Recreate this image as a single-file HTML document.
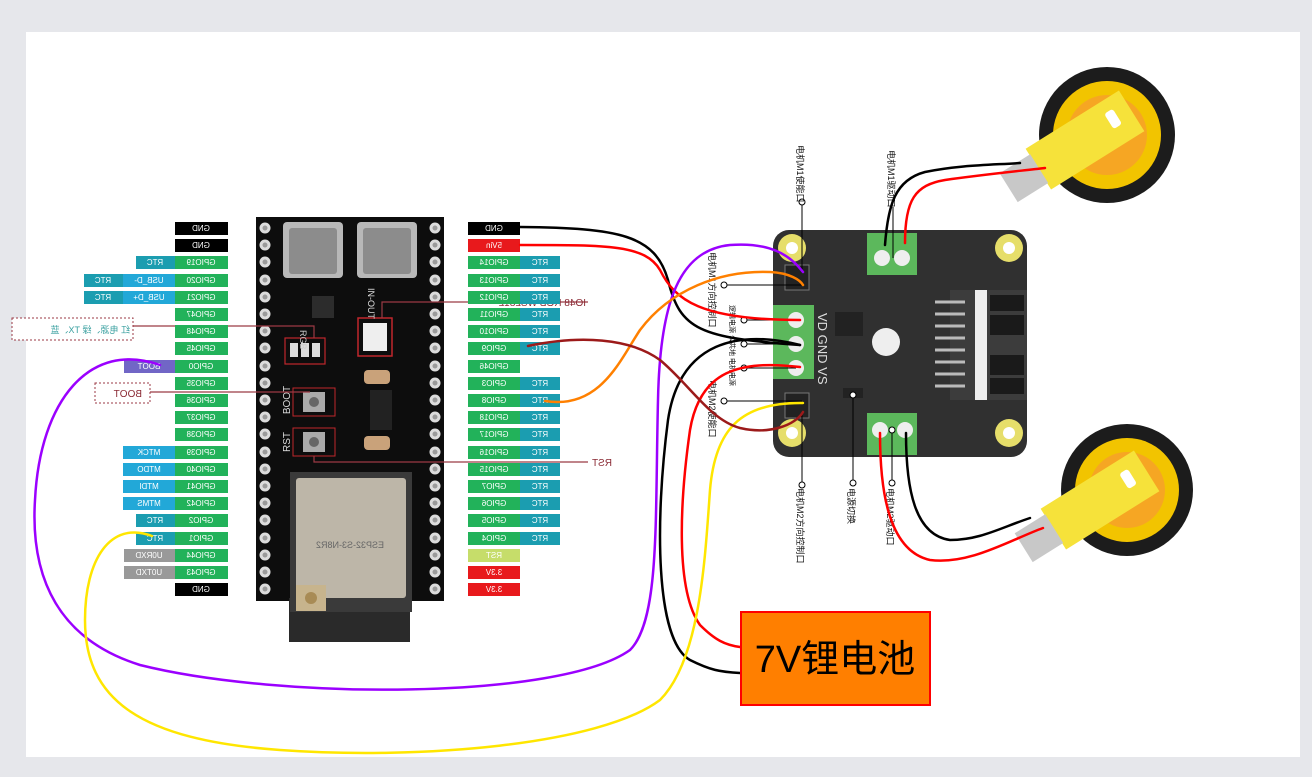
<!DOCTYPE html>
<html><head><meta charset="utf-8"><style>
html,body{margin:0;padding:0;background:#e6e7eb;}
svg{display:block;font-family:"Liberation Sans","Noto Sans CJK SC",sans-serif;}
</style></head><body>
<svg width="1312" height="777" viewBox="0 0 1312 777" xmlns="http://www.w3.org/2000/svg">
<rect x="0" y="0" width="1312" height="777" fill="#e6e7eb"/>
<rect x="26" y="32" width="1274" height="725" fill="#ffffff"/>

<defs>
<g id="pin"><circle r="5.5" fill="#dcdcdc"/><circle r="2.5" fill="#9a9a9a"/></g>
</defs>

<!-- ESP32 board -->
<rect x="256" y="217" width="188" height="384" fill="#0d0d0d"/>
<rect x="289" y="598" width="121" height="44" fill="#2a2a2a"/>
<rect x="283" y="222" width="60" height="56" rx="4" fill="#b8b8b8"/>
<rect x="289" y="228" width="48" height="46" rx="3" fill="#8c8c8c"/>
<rect x="357" y="222" width="60" height="56" rx="4" fill="#b8b8b8"/>
<rect x="363" y="228" width="48" height="46" rx="3" fill="#8c8c8c"/>
<rect x="290" y="472" width="122" height="140" fill="#3a3a3a"/>
<rect x="296" y="478" width="110" height="120" rx="3" fill="#bdb6a8"/>
<rect x="296" y="585" width="30" height="26" fill="#c7b48d"/>
<circle cx="311" cy="598" r="6" fill="#a88b55"/>
<g transform="translate(350,548) scale(-1,1)"><text text-anchor="middle" font-size="9" fill="#666">ESP32-S3-N8R2</text></g>
<rect x="358" y="318" width="34" height="38" fill="none" stroke="#c0262c" stroke-width="1.5"/>
<rect x="363" y="323" width="24" height="28" fill="#eee"/>
<rect x="285" y="338" width="40" height="26" fill="none" stroke="#c0262c" stroke-width="1.2"/>
<rect x="290" y="343" width="8" height="14" fill="#ddd"/><rect x="301" y="343" width="8" height="14" fill="#ddd"/><rect x="312" y="343" width="8" height="14" fill="#ddd"/>
<rect x="293" y="388" width="42" height="28" fill="none" stroke="#c0262c" stroke-width="1"/>
<rect x="303" y="392" width="22" height="20" fill="#aaa"/><circle cx="314" cy="402" r="5" fill="#666"/>
<rect x="293" y="428" width="42" height="28" fill="none" stroke="#c0262c" stroke-width="1"/>
<rect x="303" y="432" width="22" height="20" fill="#aaa"/><circle cx="314" cy="442" r="5" fill="#666"/>
<rect x="370" y="390" width="22" height="40" fill="#222"/>
<rect x="364" y="370" width="26" height="14" rx="4" fill="#c9a27a"/>
<rect x="364" y="436" width="26" height="14" rx="4" fill="#c9a27a"/>
<rect x="312" y="296" width="22" height="22" fill="#2c2c2c"/>
<g transform="translate(300,330) rotate(90)"><text font-size="9" fill="#ccc">RGB</text></g>
<g transform="translate(368,288) rotate(90)"><text font-size="9" fill="#ddd">IN-OUT</text></g>
<g transform="translate(290,400) rotate(-90)"><text font-size="10" fill="#ddd" text-anchor="middle">BOOT</text></g>
<g transform="translate(290,442) rotate(-90)"><text font-size="10" fill="#ddd" text-anchor="middle">RST</text></g>

<g id="pinsL">
<use href="#pin" x="265" y="228"/><use href="#pin" x="265" y="245"/><use href="#pin" x="265" y="262"/><use href="#pin" x="265" y="280"/><use href="#pin" x="265" y="297"/><use href="#pin" x="265" y="314"/><use href="#pin" x="265" y="331"/><use href="#pin" x="265" y="348"/><use href="#pin" x="265" y="366"/><use href="#pin" x="265" y="383"/><use href="#pin" x="265" y="400"/><use href="#pin" x="265" y="417"/><use href="#pin" x="265" y="434"/><use href="#pin" x="265" y="452"/><use href="#pin" x="265" y="469"/><use href="#pin" x="265" y="486"/><use href="#pin" x="265" y="503"/><use href="#pin" x="265" y="520"/><use href="#pin" x="265" y="538"/><use href="#pin" x="265" y="555"/><use href="#pin" x="265" y="572"/><use href="#pin" x="265" y="589"/>
</g>
<use href="#pinsL" x="170"/>

<!-- callouts (behind labels) -->
<g stroke="#9b3a44" stroke-width="1.2" fill="none">
<polyline points="133,326 314,326 314,338"/>
<polyline points="150,392 310,392"/>
<polyline points="588,302 382,302 382,318"/>
<polyline points="588,462 314,462 314,456"/>
</g>
<g transform="scale(-1,1)" font-size="10" fill="#8a2a34">
<text x="-586" y="306">IO48 RGB WS2812</text>
</g>

<!-- left labels -->
<g font-size="8" text-anchor="middle" fill="#fff">
<rect x="175" y="222" width="53" height="13" fill="#000"/>
<rect x="175" y="239" width="53" height="13" fill="#000"/>
<rect x="175" y="256" width="53" height="13" fill="#22b25a"/><rect x="136" y="256" width="39" height="13" fill="#1b9db0"/>
<rect x="175" y="274" width="53" height="13" fill="#22b25a"/><rect x="123" y="274" width="52" height="13" fill="#22a8d8"/><rect x="84" y="274" width="39" height="13" fill="#1b9db0"/>
<rect x="175" y="291" width="53" height="13" fill="#22b25a"/><rect x="123" y="291" width="52" height="13" fill="#22a8d8"/><rect x="84" y="291" width="39" height="13" fill="#1b9db0"/>
<rect x="175" y="308" width="53" height="13" fill="#22b25a"/>
<rect x="175" y="325" width="53" height="13" fill="#22b25a"/>
<rect x="175" y="342" width="53" height="13" fill="#22b25a"/>
<rect x="175" y="360" width="53" height="13" fill="#22b25a"/><rect x="124" y="360" width="51" height="13" fill="#7166c6"/>
<rect x="175" y="377" width="53" height="13" fill="#22b25a"/>
<rect x="175" y="394" width="53" height="13" fill="#22b25a"/>
<rect x="175" y="411" width="53" height="13" fill="#22b25a"/>
<rect x="175" y="428" width="53" height="13" fill="#22b25a"/>
<rect x="175" y="446" width="53" height="13" fill="#22b25a"/><rect x="123" y="446" width="52" height="13" fill="#22a8d8"/>
<rect x="175" y="463" width="53" height="13" fill="#22b25a"/><rect x="123" y="463" width="52" height="13" fill="#22a8d8"/>
<rect x="175" y="480" width="53" height="13" fill="#22b25a"/><rect x="123" y="480" width="52" height="13" fill="#22a8d8"/>
<rect x="175" y="497" width="53" height="13" fill="#22b25a"/><rect x="123" y="497" width="52" height="13" fill="#22a8d8"/>
<rect x="175" y="514" width="53" height="13" fill="#22b25a"/><rect x="136" y="514" width="39" height="13" fill="#1b9db0"/>
<rect x="175" y="532" width="53" height="13" fill="#22b25a"/><rect x="136" y="532" width="39" height="13" fill="#1b9db0"/>
<rect x="175" y="549" width="53" height="13" fill="#22b25a"/><rect x="124" y="549" width="51" height="13" fill="#999"/>
<rect x="175" y="566" width="53" height="13" fill="#22b25a"/><rect x="124" y="566" width="51" height="13" fill="#999"/>
<rect x="175" y="583" width="53" height="13" fill="#000"/>
<g transform="scale(-1,1)">
<text x="-201" y="231">GND</text><text x="-201" y="248">GND</text>
<text x="-201" y="265">GPIO19</text><text x="-155" y="265">RTC</text>
<text x="-201" y="283">GPIO20</text><text x="-149" y="283">USB_D-</text><text x="-103" y="283">RTC</text>
<text x="-201" y="300">GPIO21</text><text x="-149" y="300">USB_D+</text><text x="-103" y="300">RTC</text>
<text x="-201" y="317">GPIO47</text><text x="-201" y="334">GPIO48</text><text x="-201" y="351">GPIO45</text>
<text x="-201" y="369">GPIO0</text><text x="-149" y="369">BOOT</text>
<text x="-201" y="386">GPIO35</text><text x="-201" y="403">GPIO36</text><text x="-201" y="420">GPIO37</text><text x="-201" y="437">GPIO38</text>
<text x="-201" y="455">GPIO39</text><text x="-149" y="455">MTCK</text>
<text x="-201" y="472">GPIO40</text><text x="-149" y="472">MTDO</text>
<text x="-201" y="489">GPIO41</text><text x="-149" y="489">MTDI</text>
<text x="-201" y="506">GPIO42</text><text x="-149" y="506">MTMS</text>
<text x="-201" y="523">GPIO2</text><text x="-155" y="523">RTC</text>
<text x="-201" y="541">GPIO1</text><text x="-155" y="541">RTC</text>
<text x="-201" y="558">GPIO44</text><text x="-149" y="558">U0RXD</text>
<text x="-201" y="575">GPIO43</text><text x="-149" y="575">U0TXD</text>
<text x="-201" y="592">GND</text>
</g>
</g>

<!-- right labels -->
<g font-size="8" text-anchor="middle" fill="#fff">
<rect x="468" y="222" width="52" height="13" fill="#000"/>
<rect x="468" y="239" width="52" height="13" fill="#e8191c"/>
<rect x="468" y="256" width="52" height="13" fill="#22b25a"/><rect x="520" y="256" width="40" height="13" fill="#1b9db0"/>
<rect x="468" y="274" width="52" height="13" fill="#22b25a"/><rect x="520" y="274" width="40" height="13" fill="#1b9db0"/>
<rect x="468" y="291" width="52" height="13" fill="#22b25a"/><rect x="520" y="291" width="40" height="13" fill="#1b9db0"/>
<rect x="468" y="308" width="52" height="13" fill="#22b25a"/><rect x="520" y="308" width="40" height="13" fill="#1b9db0"/>
<rect x="468" y="325" width="52" height="13" fill="#22b25a"/><rect x="520" y="325" width="40" height="13" fill="#1b9db0"/>
<rect x="468" y="342" width="52" height="13" fill="#22b25a"/><rect x="520" y="342" width="40" height="13" fill="#1b9db0"/>
<rect x="468" y="360" width="52" height="13" fill="#22b25a"/>
<rect x="468" y="377" width="52" height="13" fill="#22b25a"/><rect x="520" y="377" width="40" height="13" fill="#1b9db0"/>
<rect x="468" y="394" width="52" height="13" fill="#22b25a"/><rect x="520" y="394" width="40" height="13" fill="#1b9db0"/>
<rect x="468" y="411" width="52" height="13" fill="#22b25a"/><rect x="520" y="411" width="40" height="13" fill="#1b9db0"/>
<rect x="468" y="428" width="52" height="13" fill="#22b25a"/><rect x="520" y="428" width="40" height="13" fill="#1b9db0"/>
<rect x="468" y="446" width="52" height="13" fill="#22b25a"/><rect x="520" y="446" width="40" height="13" fill="#1b9db0"/>
<rect x="468" y="463" width="52" height="13" fill="#22b25a"/><rect x="520" y="463" width="40" height="13" fill="#1b9db0"/>
<rect x="468" y="480" width="52" height="13" fill="#22b25a"/><rect x="520" y="480" width="40" height="13" fill="#1b9db0"/>
<rect x="468" y="497" width="52" height="13" fill="#22b25a"/><rect x="520" y="497" width="40" height="13" fill="#1b9db0"/>
<rect x="468" y="514" width="52" height="13" fill="#22b25a"/><rect x="520" y="514" width="40" height="13" fill="#1b9db0"/>
<rect x="468" y="532" width="52" height="13" fill="#22b25a"/><rect x="520" y="532" width="40" height="13" fill="#1b9db0"/>
<rect x="468" y="549" width="52" height="13" fill="#c6dd6a"/>
<rect x="468" y="566" width="52" height="13" fill="#e8191c"/>
<rect x="468" y="583" width="52" height="13" fill="#e8191c"/>
<g transform="scale(-1,1)">
<text x="-494" y="231">GND</text><text x="-494" y="248">5Vin</text>
<text x="-494" y="265">GPIO14</text><text x="-540" y="265">RTC</text>
<text x="-494" y="283">GPIO13</text><text x="-540" y="283">RTC</text>
<text x="-494" y="300">GPIO12</text><text x="-540" y="300">RTC</text>
<text x="-494" y="317">GPIO11</text><text x="-540" y="317">RTC</text>
<text x="-494" y="334">GPIO10</text><text x="-540" y="334">RTC</text>
<text x="-494" y="351">GPIO9</text><text x="-540" y="351">RTC</text>
<text x="-494" y="369">GPIO46</text>
<text x="-494" y="386">GPIO3</text><text x="-540" y="386">RTC</text>
<text x="-494" y="403">GPIO8</text><text x="-540" y="403">RTC</text>
<text x="-494" y="420">GPIO18</text><text x="-540" y="420">RTC</text>
<text x="-494" y="437">GPIO17</text><text x="-540" y="437">RTC</text>
<text x="-494" y="455">GPIO16</text><text x="-540" y="455">RTC</text>
<text x="-494" y="472">GPIO15</text><text x="-540" y="472">RTC</text>
<text x="-494" y="489">GPIO7</text><text x="-540" y="489">RTC</text>
<text x="-494" y="506">GPIO6</text><text x="-540" y="506">RTC</text>
<text x="-494" y="523">GPIO5</text><text x="-540" y="523">RTC</text>
<text x="-494" y="541">GPIO4</text><text x="-540" y="541">RTC</text>
<text x="-494" y="558">RST</text><text x="-494" y="575">3.3V</text><text x="-494" y="592">3.3V</text>
</g>
</g>

<rect x="12" y="318" width="121" height="22" fill="#fff" stroke="#9b3a44" stroke-dasharray="2,2"/>
<rect x="95" y="383" width="55" height="20" fill="#fff" stroke="#9b3a44" stroke-dasharray="2,2"/>
<g transform="scale(-1,1)" font-size="10" fill="#8a2a34">
<text x="-130" y="333" font-size="9" fill="#3aa0a0">红 电源、绿 TX、蓝</text>
<text x="-142" y="397">BOOT</text>
<text x="-612" y="466">RST</text>
</g>

<!-- motor driver -->
<rect x="773" y="230" width="254" height="227" rx="16" fill="#303030"/>
<g fill="#e6de6a"><circle cx="792" cy="248" r="14"/><circle cx="1009" cy="248" r="14"/><circle cx="792" cy="433" r="14"/><circle cx="1009" cy="433" r="14"/></g>
<g fill="#fff"><circle cx="792" cy="248" r="6"/><circle cx="1009" cy="248" r="6"/><circle cx="792" cy="433" r="6"/><circle cx="1009" cy="433" r="6"/></g>
<rect x="867" y="233" width="50" height="42" fill="#5cb85c"/>
<circle cx="882" cy="258" r="8" fill="#eee"/><circle cx="902" cy="258" r="8" fill="#eee"/>
<rect x="867" y="413" width="50" height="42" fill="#5cb85c"/>
<circle cx="880" cy="430" r="8" fill="#eee"/><circle cx="905" cy="430" r="8" fill="#eee"/>
<rect x="773" y="305" width="41" height="74" fill="#5cb85c"/>
<circle cx="796" cy="320" r="8" fill="#eee"/><circle cx="796" cy="344" r="8" fill="#eee"/><circle cx="796" cy="368" r="8" fill="#eee"/>
<g transform="translate(818,313) rotate(90)"><text font-size="13" fill="#ddd">VD GND VS</text></g>
<rect x="785" y="265" width="24" height="25" fill="#222" stroke="#777"/>
<rect x="785" y="393" width="24" height="25" fill="#222" stroke="#777"/>
<rect x="950" y="290" width="77" height="110" fill="#3c3c3c"/>
<rect x="975" y="290" width="12" height="110" fill="#eee"/>
<g fill="#1a1a1a"><rect x="990" y="295" width="34" height="16"/><rect x="990" y="315" width="34" height="20"/><rect x="990" y="355" width="34" height="20"/><rect x="990" y="378" width="34" height="16"/></g>
<g stroke="#bbb" stroke-width="3"><line x1="935" y1="302" x2="965" y2="302"/><line x1="935" y1="314" x2="965" y2="314"/><line x1="935" y1="326" x2="965" y2="326"/><line x1="935" y1="338" x2="965" y2="338"/><line x1="935" y1="350" x2="965" y2="350"/><line x1="935" y1="362" x2="965" y2="362"/><line x1="935" y1="374" x2="965" y2="374"/><line x1="935" y1="386" x2="965" y2="386"/></g>
<circle cx="886" cy="342" r="14" fill="#eee"/><rect x="835" y="312" width="28" height="24" fill="#222"/>
<rect x="843" y="388" width="20" height="10" fill="#222"/>

<!-- wheels -->
<circle cx="1107" cy="135" r="68" fill="#1c1c1c"/>
<circle cx="1107" cy="135" r="54" fill="#f2c400"/>
<circle cx="1107" cy="135" r="40" fill="#f6a623"/>
<g transform="translate(1085,140) rotate(-32)"><rect x="-55" y="-24" width="110" height="48" fill="#f6e23a"/><rect x="-90" y="-17" width="36" height="34" fill="#c8c8c8"/><rect x="30" y="-12" width="10" height="18" rx="3" fill="#fff"/></g>
<circle cx="1127" cy="490" r="66" fill="#1c1c1c"/>
<circle cx="1127" cy="490" r="52" fill="#f2c400"/>
<circle cx="1127" cy="490" r="38" fill="#f6a623"/>
<g transform="translate(1100,500) rotate(-32)"><rect x="-55" y="-24" width="110" height="48" fill="#f6e23a"/><rect x="-90" y="-17" width="36" height="34" fill="#c8c8c8"/><rect x="30" y="-12" width="10" height="18" rx="3" fill="#fff"/></g>

<!-- driver annotations -->
<g stroke="#000" stroke-width="1" fill="#fff">
<line x1="802" y1="202" x2="802" y2="272"/><circle cx="802" cy="202" r="3"/>
<line x1="893" y1="207" x2="893" y2="258"/>
<line x1="724" y1="285" x2="802" y2="285"/><circle cx="724" cy="285" r="3"/>
<line x1="744" y1="320" x2="796" y2="320"/><circle cx="744" cy="320" r="3"/>
<line x1="744" y1="344" x2="796" y2="344"/><circle cx="744" cy="344" r="3"/>
<line x1="744" y1="368" x2="796" y2="368"/><circle cx="744" cy="368" r="3"/>
<line x1="724" y1="401" x2="802" y2="401"/><circle cx="724" cy="401" r="3"/>
<line x1="802" y1="412" x2="802" y2="485"/><circle cx="802" cy="485" r="3"/>
<line x1="853" y1="395" x2="853" y2="483"/><circle cx="853" cy="483" r="3"/><circle cx="853" cy="395" r="3"/>
<line x1="892" y1="430" x2="892" y2="483"/><circle cx="892" cy="483" r="3"/><circle cx="892" cy="430" r="3"/>
</g>
<g font-size="9" fill="#111">
<g transform="translate(797,145) rotate(90)"><text>电机M1使能口</text></g>
<g transform="translate(888,150) rotate(90)"><text>电机M1驱动口</text></g>
<g transform="translate(709,252) rotate(90)"><text>电机M1方向控制口</text></g>
<g transform="translate(730,305) rotate(90)"><text font-size="7">逻辑电源 公共地 电机电源</text></g>
<g transform="translate(709,380) rotate(90)"><text>电机M2使能口</text></g>
<g transform="translate(797,488) rotate(90)"><text>电机M2方向控制口</text></g>
<g transform="translate(848,488) rotate(90)"><text>电源切换</text></g>
<g transform="translate(887,488) rotate(90)"><text>电机M2驱动口</text></g>
</g>

<!-- wires -->
<g fill="none" stroke-width="2.5" stroke-linecap="round">
<path d="M520,227 C620,228 655,235 668,280 C680,330 700,338 800,345" stroke="#000"/>
<path d="M800,345 C740,330 680,340 668,420 C655,520 655,640 690,660 C710,670 720,672 740,673" stroke="#000"/>
<path d="M520,245 C610,245 645,245 660,270 C675,300 700,320 800,320" stroke="#f00"/>
<path d="M800,367 C740,360 700,370 690,430 C680,500 675,590 700,625 C715,640 725,645 740,647" stroke="#f00"/>
<path d="M160,365 C90,340 40,400 35,500 C30,580 60,640 140,665 C280,700 560,700 630,650 C660,620 655,520 658,400 C660,300 680,250 730,245 C770,242 790,255 803,272" stroke="#9b00ff"/>
<path d="M152,536 C110,520 85,560 85,620 C85,700 140,740 280,750 C420,760 600,745 660,700 C700,660 705,560 710,490 C715,430 740,402 803,403" stroke="#ffe600"/>
<path d="M545,401 C600,410 620,360 640,330 C670,290 720,270 770,272 C790,273 800,280 803,285" stroke="#ff8000"/>
<path d="M528,346 C580,335 630,338 660,360 C690,385 710,420 740,428 C770,435 795,425 803,412" stroke="#9c1a1a"/>
<path d="M885,245 C888,205 895,180 925,172 C960,165 990,165 1020,163" stroke="#000"/>
<path d="M905,243 C905,200 915,185 945,180 C980,175 1010,172 1045,168" stroke="#f00"/>
<path d="M880,433 C880,480 885,550 930,560 C970,565 1010,540 1043,528" stroke="#f00"/>
<path d="M906,433 C906,490 915,535 950,540 C980,540 1000,528 1030,518" stroke="#000"/>
</g>

<!-- battery -->
<rect x="741" y="612" width="189" height="93" fill="#ff7f00" stroke="#f00" stroke-width="2"/>
<text x="835" y="672" text-anchor="middle" font-size="38" fill="#000">7V锂电池</text>
</svg>
</body></html>
